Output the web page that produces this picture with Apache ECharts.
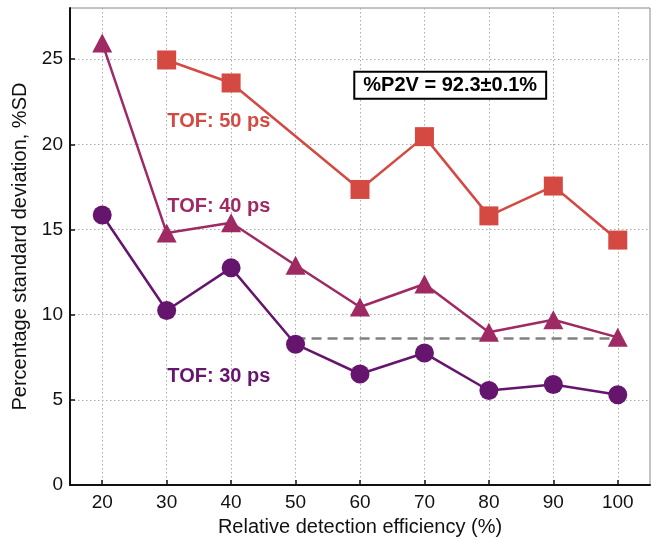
<!DOCTYPE html>
<html>
<head>
<meta charset="utf-8">
<script src="https://cdn.jsdelivr.net/npm/echarts@6/dist/echarts.min.js"></script>
<style>
  html, body { margin: 0; padding: 0; background: #fff; }
  #chart { width: 653px; height: 542px; }
</style>
</head>
<body>
<div id="chart"></div>
<script>
// efficiency (%) on x
const efficiency = [20, 30, 40, 50, 60, 70, 80, 90, 100];
const tof30 = [15.85, 10.25, 12.75, 8.27, 6.52, 7.75, 5.55, 5.9, 5.3];
const tof40 = [25.95, 14.8, 15.4, 12.9, 10.45, 11.8, 8.97, 9.7, 8.67];
const tof50 = [null, 24.95, 23.6, null, 17.35, 20.45, 15.8, 17.55, 14.38];
const xTicks = [20, 30, 40, 50, 60, 70, 80, 90, 100];
const yTicks = [0, 5, 10, 15, 20, 25];
const refLine = [[50, 8.6], [100, 8.6]];
const tofLabels = [
  { text: 'TOF: 50 ps', x: 30.1, y: 21.36, color: '#d44a43' },
  { text: 'TOF: 40 ps', x: 30.1, y: 16.38, color: '#9f2a63' },
  { text: 'TOF: 30 ps', x: 30.1, y: 6.37, color: '#65156e' }
];
const p2vBox = { text: '%P2V = 92.3±0.1%', x: 74.0, y: 23.47 };

const FONT = "'Liberation Sans', Arial, sans-serif";

function pairs(vals) {
  return efficiency.map(function (e, i) { return vals[i] == null ? null : [e, vals[i]]; })
    .filter(function (d) { return d; });
}

const chart = echarts.init(document.getElementById('chart'));
chart.setOption({
  animation: false,
  textStyle: { fontFamily: FONT },
  grid: {
    left: 70, right: 3, top: 8, bottom: 53,
    show: true, borderColor: '#888', borderWidth: 1
  },
  xAxis: {
    type: 'value', min: 15, max: 105,
    name: 'Relative detection efficiency (%)',
    nameLocation: 'middle', nameGap: 30,
    nameTextStyle: { fontSize: 20, color: '#111', fontFamily: FONT },
    axisLine: { lineStyle: { color: '#111', width: 2 } },
    axisTick: { inside: true, length: 5, customValues: xTicks, lineStyle: { color: '#111', width: 1.5 } },
    axisLabel: { customValues: xTicks, fontSize: 19, color: '#111', margin: 8, fontFamily: FONT },
    splitLine: { show: true, lineStyle: { color: '#aaa', type: [1.5, 2.5], width: 1 } }
  },
  yAxis: {
    type: 'value', min: 0, max: 28,
    name: 'Percentage standard deviation, %SD',
    nameLocation: 'middle', nameGap: 28,
    nameTextStyle: { fontSize: 20, color: '#111', fontFamily: FONT },
    axisLine: { lineStyle: { color: '#111', width: 2 } },
    axisTick: { inside: true, length: 5, customValues: yTicks, lineStyle: { color: '#111', width: 1.5 } },
    axisLabel: { customValues: yTicks, fontSize: 19, color: '#111', margin: 7, fontFamily: FONT },
    splitLine: { show: true, lineStyle: { color: '#aaa', type: [1.5, 2.5], width: 1 } }
  },
  series: [
    {
      name: 'TOF 50', type: 'line', data: pairs(tof50), z: 3,
      symbol: 'rect', symbolSize: 19,
      lineStyle: { color: '#d44a43', width: 2.5 },
      itemStyle: { color: '#d44a43' }
    },
    {
      name: 'ref', type: 'line', data: refLine, z: 2, symbol: 'none',
      lineStyle: { color: '#808080', width: 2.5, type: [10, 6] }
    },
    {
      name: 'TOF 40', type: 'line', data: pairs(tof40), z: 4,
      symbol: 'triangle', symbolSize: [20, 19],
      lineStyle: { color: '#9f2a63', width: 2.5 },
      itemStyle: { color: '#9f2a63' }
    },
    {
      name: 'TOF 30', type: 'line', data: pairs(tof30), z: 3,
      symbol: 'circle', symbolSize: 19,
      lineStyle: { color: '#65156e', width: 2.5 },
      itemStyle: { color: '#65156e' }
    },
    {
      name: 'labels', type: 'scatter', z: 6, symbolSize: 0,
      itemStyle: { opacity: 1 },
      data: tofLabels.map(function (l) {
        return {
          value: [l.x, l.y],
          label: {
            show: true, position: 'right', distance: 0, formatter: l.text,
            color: l.color, fontSize: 20, fontWeight: 'bold', fontFamily: FONT
          }
        };
      })
    },
    {
      name: 'box', type: 'scatter', z: 6, symbolSize: 0,
      itemStyle: { opacity: 1 },
      data: [{
        value: [p2vBox.x, p2vBox.y],
        label: {
          show: true, position: 'inside', formatter: p2vBox.text,
          color: '#000', fontSize: 20, fontWeight: 'bold', fontFamily: FONT,
          backgroundColor: '#fff', borderColor: '#000', borderWidth: 2,
          padding: [3, 8, 2, 8]
        }
      }]
    }
  ]
});
</script>
</body>
</html>
